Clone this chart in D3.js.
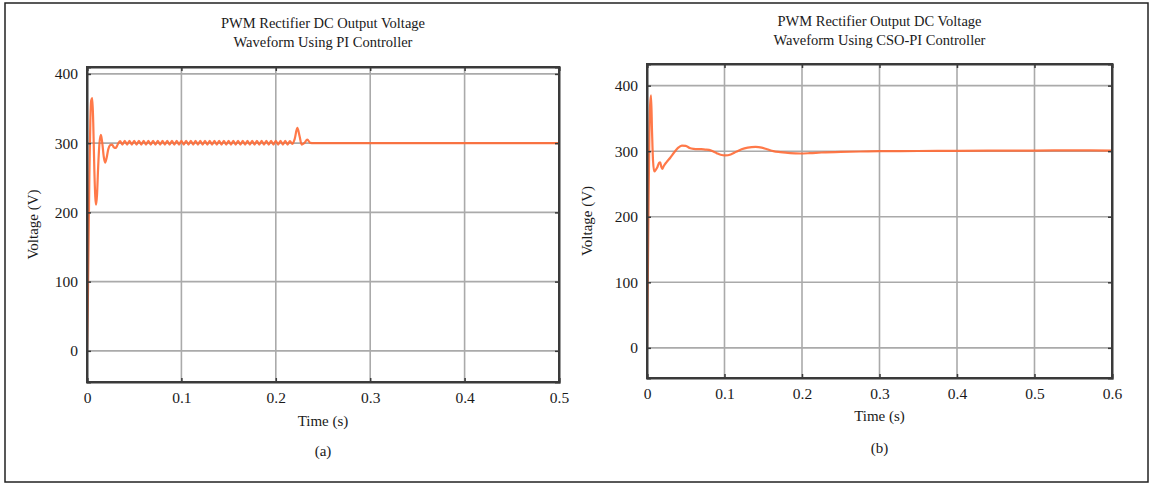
<!DOCTYPE html>
<html>
<head>
<meta charset="utf-8">
<script src="https://cdn.jsdelivr.net/npm/d3@7"></script>
<style>
  body { margin: 0; background: #fff; }
  text { font-family: "Liberation Serif", "DejaVu Serif", serif; fill: #1a1a1a; }
</style>
</head>
<body>
<svg id="fig" width="1153" height="485"></svg>
<script>
// ---- data ----
var yTicks = [0, 100, 200, 300, 400];
var xTicksA = [0, 0.1, 0.2, 0.3, 0.4, 0.5];
var xTicksB = [0, 0.1, 0.2, 0.3, 0.4, 0.5, 0.6];

var titleA = ["PWM Rectifier DC Output Voltage", "Waveform Using PI Controller"];
var titleB = ["PWM Rectifier Output DC Voltage", "Waveform Using CSO-PI Controller"];

// PI controller: [time (s), voltage (V)]
var voltagePI = [
  [0, 0], [0.0008, 60], [0.0016, 150], [0.0025, 250], [0.0035, 330], [0.0045, 362], [0.0056, 365],
  [0.0066, 330], [0.0078, 260], [0.0088, 222], [0.0096, 211], [0.0106, 225], [0.0118, 265],
  [0.0132, 300], [0.0148, 312], [0.0162, 300], [0.0178, 280], [0.0192, 272], [0.0208, 279],
  [0.0225, 291], [0.0245, 297], [0.0265, 298], [0.0285, 294], [0.0305, 293], [0.0325, 298],
  [0.035, 303], [0.0375, 298], [0.040, 303.5], [0.0425, 298], [0.045, 303.5], [0.0475, 298],
  [0.050, 303.5], [0.0525, 298], [0.055, 303.5], [0.0575, 298], [0.060, 303.5], [0.0625, 298],
  [0.065, 303.5], [0.0675, 298], [0.070, 303.5], [0.0725, 298], [0.075, 303.5], [0.0775, 298],
  [0.080, 303.5], [0.0825, 298], [0.085, 303.5], [0.0875, 298], [0.090, 303.5], [0.0925, 298],
  [0.095, 303.5], [0.0975, 298], [0.100, 303.5], [0.1025, 298], [0.105, 303.5], [0.1075, 298],
  [0.110, 303.5], [0.1125, 298], [0.115, 303.5], [0.1175, 298], [0.120, 303.5], [0.1225, 298],
  [0.125, 303.5], [0.1275, 298], [0.130, 303.5], [0.1325, 298], [0.135, 303.5], [0.1375, 298],
  [0.140, 303.5], [0.1425, 298], [0.145, 303.5], [0.1475, 298], [0.150, 303.5], [0.1525, 298],
  [0.155, 303.5], [0.1575, 298], [0.160, 303.5], [0.1625, 298], [0.165, 303.5], [0.1675, 298],
  [0.170, 303.5], [0.1725, 298], [0.175, 303.5], [0.1775, 298], [0.180, 303.5], [0.1825, 298],
  [0.185, 303.5], [0.1875, 298], [0.190, 303.5], [0.1925, 298], [0.195, 303.5], [0.1975, 298],
  [0.200, 303.5], [0.2025, 298], [0.205, 303.5], [0.2075, 298], [0.210, 303.5], [0.2125, 298],
  [0.215, 303], [0.2175, 299], [0.2200, 306], [0.2228, 322], [0.2252, 310], [0.2274, 298],
  [0.2300, 300], [0.2334, 305], [0.2365, 300.5], [0.240, 300], [0.26, 300], [0.35, 300], [0.5, 300]
];

// CSO-PI controller: [time (s), voltage (V)]
var voltageCSO = [
  [0, 0], [0.001, 100], [0.002, 220], [0.003, 320], [0.004, 370], [0.0052, 385], [0.0065, 330],
  [0.0078, 285], [0.0094, 269], [0.0115, 272], [0.0135, 276], [0.0155, 282], [0.017, 283],
  [0.0185, 276], [0.0197, 273], [0.0215, 277], [0.025, 283], [0.030, 290], [0.035, 298],
  [0.040, 305], [0.045, 308.5], [0.050, 308], [0.055, 305], [0.060, 303.5], [0.065, 303],
  [0.070, 303], [0.075, 302.5], [0.080, 302], [0.085, 300], [0.090, 297], [0.095, 294.5],
  [0.101, 293.5], [0.108, 295], [0.115, 299], [0.122, 303], [0.130, 305.5], [0.140, 306.5],
  [0.148, 305.5], [0.155, 303], [0.163, 300], [0.172, 298.5], [0.185, 297], [0.198, 296.5],
  [0.21, 297], [0.225, 298], [0.25, 299], [0.275, 299.5], [0.3, 300], [0.35, 300.3],
  [0.4, 300.6], [0.45, 301], [0.5, 301], [0.55, 301.2], [0.6, 301]
];

var svg = d3.select("#fig");

// outer frame
svg.append("rect")
  .attr("x", 5).attr("y", 3)
  .attr("width", 1143).attr("height", 479)
  .attr("fill", "none")
  .attr("stroke", "#222")
  .attr("stroke-width", 1.5);

function drawPanel(opts){
  var x = d3.scaleLinear().domain(opts.xDomain).range([opts.left, opts.right]);
  var y = d3.scaleLinear().domain(opts.yDomain).range([opts.bottom, opts.top]);
  var g = svg.append("g");
  var cx = (opts.left + opts.right) / 2;

  // grid
  g.selectAll(".vg").data(opts.xTicks).enter().append("line")
    .attr("x1", function(d){ return x(d); }).attr("x2", function(d){ return x(d); })
    .attr("y1", opts.top).attr("y2", opts.bottom)
    .attr("stroke", "#aaaaaa").attr("stroke-width", 1.6);
  g.selectAll(".hg").data(yTicks).enter().append("line")
    .attr("y1", function(d){ return y(d); }).attr("y2", function(d){ return y(d); })
    .attr("x1", opts.left).attr("x2", opts.right)
    .attr("stroke", "#aaaaaa").attr("stroke-width", 1.6);

  // curve
  var clipId = "clip" + opts.id;
  svg.append("clipPath").attr("id", clipId).append("rect")
    .attr("x", opts.left).attr("y", opts.top)
    .attr("width", opts.right - opts.left).attr("height", opts.bottom - opts.top);
  var line = d3.line()
    .x(function(d){ return x(d[0]); })
    .y(function(d){ return y(d[1]); })
    .curve(d3.curveMonotoneX);
  g.append("path")
    .datum(opts.data)
    .attr("clip-path", "url(#" + clipId + ")")
    .attr("fill", "none")
    .attr("stroke", "#ff6a35")
    .attr("stroke-opacity", 0.9)
    .attr("stroke-width", 2.2)
    .attr("stroke-linejoin", "round")
    .attr("d", line);

  // axes frame and inner ticks
  var axB = g.append("g").attr("transform", "translate(0," + opts.bottom + ")")
    .call(d3.axisBottom(x).tickValues(opts.xTicks).tickSize(-4).tickPadding(10)
      .tickFormat(function(d){ return d === 0 ? "0" : d3.format(".1f")(d); }));
  var axT = g.append("g").attr("transform", "translate(0," + opts.top + ")")
    .call(d3.axisTop(x).tickValues(opts.xTicks).tickSize(-4).tickFormat(""));
  var axL = g.append("g").attr("transform", "translate(" + opts.left + ",0)")
    .call(d3.axisLeft(y).tickValues(yTicks).tickSize(-4).tickPadding(9));
  var axR = g.append("g").attr("transform", "translate(" + opts.right + ",0)")
    .call(d3.axisRight(y).tickValues(yTicks).tickSize(-4).tickFormat(""));
  [axB, axT, axL, axR].forEach(function(a){
    a.select(".domain").attr("stroke", "#3a3a3a").attr("stroke-width", 2);
    a.selectAll(".tick line").attr("stroke", "#3a3a3a").attr("stroke-width", 1.5);
    a.selectAll("text").attr("font-size", 15.5).attr("fill", "#1a1a1a")
      .style("font-family", "'Liberation Serif', serif");
  });
  // close frame corners
  g.append("rect")
    .attr("x", opts.left).attr("y", opts.top)
    .attr("width", opts.right - opts.left).attr("height", opts.bottom - opts.top)
    .attr("fill", "none").attr("stroke", "#3a3a3a").attr("stroke-width", 2);

  // titles and labels
  g.selectAll(".title").data(opts.title).enter().append("text")
    .attr("x", cx).attr("y", function(d, i){ return opts.titleY + i * 19; })
    .attr("text-anchor", "middle").attr("font-size", 14.5)
    .text(function(d){ return d; });
  g.append("text")
    .attr("x", cx).attr("y", opts.xLabelY)
    .attr("text-anchor", "middle").attr("font-size", 15)
    .text("Time (s)");
  g.append("text")
    .attr("transform", "translate(" + opts.yLabelX + "," + ((opts.top + opts.bottom) / 2) + ") rotate(-90)")
    .attr("text-anchor", "middle").attr("font-size", 15)
    .text("Voltage (V)");
  g.append("text")
    .attr("x", cx).attr("y", opts.capY)
    .attr("text-anchor", "middle").attr("font-size", 15)
    .text(opts.caption);
}

drawPanel({
  id: "A", data: voltagePI, xTicks: xTicksA, xDomain: [0, 0.5], yDomain: [-45, 410],
  left: 87, right: 559, top: 67, bottom: 382,
  title: titleA, titleY: 28, xLabelY: 426, yLabelX: 38, capY: 456, caption: "(a)"
});
drawPanel({
  id: "B", data: voltageCSO, xTicks: xTicksB, xDomain: [0, 0.6], yDomain: [-46, 433],
  left: 647, right: 1112, top: 64, bottom: 378,
  title: titleB, titleY: 26, xLabelY: 421, yLabelX: 592, capY: 453, caption: "(b)"
});
</script>
</body>
</html>
